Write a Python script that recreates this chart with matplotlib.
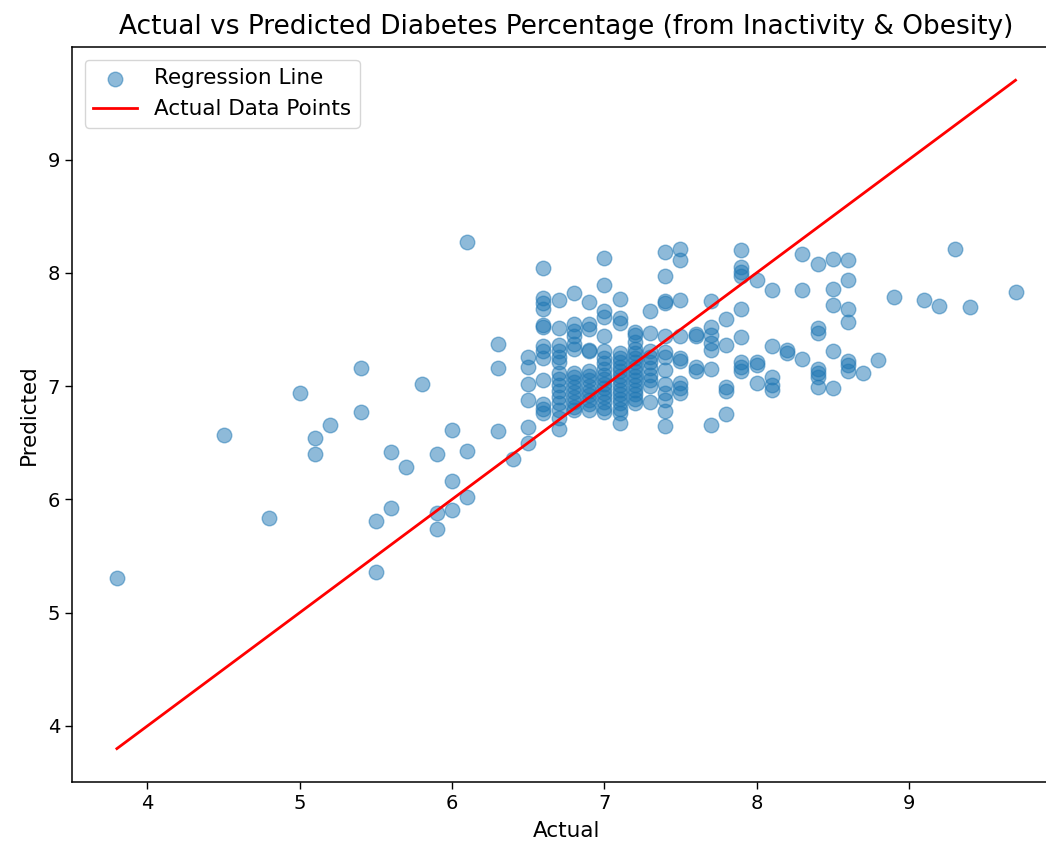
import numpy as np
import matplotlib
matplotlib.use("Agg")
import matplotlib.pyplot as plt

# predicted values grouped by actual value
actual_levels = [3.8, 4.5, 4.8, 5.0, 5.1, 5.2, 5.4, 5.5, 5.6, 5.7, 5.8, 5.9, 6.0, 6.1,
                 6.3, 6.4, 6.5, 6.6, 6.7, 6.8, 6.9, 7.0, 7.1, 7.2, 7.3, 7.4, 7.5, 7.6,
                 7.7, 7.8, 7.9, 8.0, 8.1, 8.2, 8.3, 8.4, 8.5, 8.6, 8.7, 8.8, 8.9, 9.1,
                 9.2, 9.3, 9.4, 9.7]
predicted_groups = [
    [5.31],
    [6.57],
    [5.84],
    [6.94],
    [6.54, 6.40],
    [6.66],
    [7.16, 6.77],
    [5.81, 5.36],
    [6.42, 5.92],
    [6.29],
    [7.02],
    [6.40, 5.88, 5.74],
    [6.61, 6.16, 5.91],
    [8.27, 6.43, 6.02],
    [7.37, 7.16, 6.60],
    [6.36],
    [7.26, 7.17, 7.02, 6.88, 6.64, 6.50],
    [8.04, 7.78, 7.73, 7.68, 7.54, 7.52, 7.35, 7.31, 7.25, 7.05, 6.84, 6.80, 6.76],
    [7.76, 7.51, 7.36, 7.31, 7.26, 7.21, 7.12, 7.06, 7.01, 6.96, 6.90, 6.85, 6.79,
     6.72, 6.62],
    [7.82, 7.55, 7.49, 7.44, 7.37, 7.33, 7.12, 7.08, 7.04, 6.99, 6.95, 6.90, 6.86,
     6.82, 6.79],
    [7.74, 7.55, 7.50, 7.32, 7.31, 7.13, 7.09, 7.05, 7.00, 6.96, 6.92, 6.88, 6.84,
     6.79],
    [8.13, 7.89, 7.66, 7.61, 7.44, 7.31, 7.25, 7.20, 7.15, 7.10, 7.06, 7.02, 6.98,
     6.94, 6.90, 6.86, 6.81, 6.77],
    [7.77, 7.60, 7.56, 7.29, 7.25, 7.21, 7.17, 7.13, 7.09, 7.05, 7.01, 6.97, 6.93,
     6.89, 6.85, 6.80, 6.76, 6.67],
    [7.48, 7.45, 7.39, 7.33, 7.29, 7.25, 7.21, 7.17, 7.13, 7.09, 7.05, 7.01, 6.97,
     6.93, 6.89, 6.85],
    [7.66, 7.47, 7.31, 7.26, 7.21, 7.16, 7.10, 7.05, 7.00, 6.86],
    [8.18, 7.97, 7.75, 7.73, 7.44, 7.30, 7.26, 7.14, 7.02, 6.94, 6.88, 6.78, 6.65],
    [8.21, 8.11, 7.76, 7.44, 7.25, 7.22, 7.03, 6.98, 6.94],
    [7.46, 7.44, 7.17, 7.13],
    [7.75, 7.52, 7.45, 7.38, 7.32, 7.15, 6.66],
    [7.59, 7.36, 6.99, 6.96, 6.75],
    [8.20, 8.05, 8.01, 7.97, 7.68, 7.43, 7.21, 7.17, 7.13],
    [7.94, 7.21, 7.19, 7.03],
    [7.85, 7.35, 7.08, 7.01, 6.97],
    [7.32, 7.29],
    [8.17, 7.85, 7.24],
    [8.08, 7.51, 7.47, 7.15, 7.12, 7.08, 6.99],
    [8.12, 7.86, 7.72, 7.31, 6.98],
    [8.11, 7.94, 7.68, 7.57, 7.22, 7.19, 7.13],
    [7.12],
    [7.23],
    [7.79],
    [7.76],
    [7.71],
    [8.21],
    [7.70],
    [7.83],
]

y_test = np.concatenate([[a] * len(g) for a, g in zip(actual_levels, predicted_groups)])
y_pred = np.concatenate(predicted_groups)

fig = plt.figure(figsize=(10.46, 8.47), dpi=100)
# axes runs past the right edge of the picture, as in the cropped original
ax = fig.add_axes([0.0688, 0.0767, 0.945, 0.868])

ax.scatter(y_test, y_pred, s=110, alpha=0.5, color='#1f77b4', label='Regression Line')
ax.plot([y_test.min(), y_test.max()], [y_test.min(), y_test.max()],
        color='red', lw=2, label='Actual Data Points')

ax.set_xlabel('Actual', fontsize=15.5, labelpad=6)
ax.set_ylabel('Predicted', fontsize=15.5, labelpad=6)
ax.set_title('Actual vs Predicted Diabetes Percentage (from Inactivity & Obesity)',
             fontsize=19, pad=9)
ax.tick_params(labelsize=14, length=5, width=1)
for sp in ax.spines.values():
    sp.set_linewidth(1.1)
ax.spines['right'].set_visible(False)
ax.legend(loc='upper left', fontsize=15.5, borderaxespad=0.6)

fig.savefig('out.png', dpi=100)
